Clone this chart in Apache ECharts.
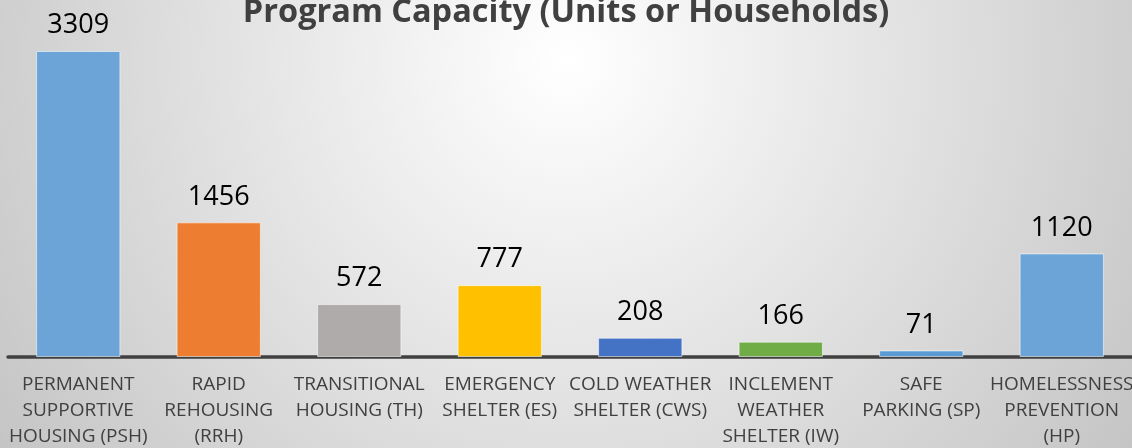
<!DOCTYPE html>
<html>
<head>
<meta charset="utf-8">
<script src="https://cdn.jsdelivr.net/npm/echarts@6/dist/echarts.min.js"></script>
<style>
  html, body { margin: 0; padding: 0; }
  #chart { width: 1132px; height: 448px; }
</style>
</head>
<body>
<div id="chart"></div>
<script>
// categories and values
var categories = [
  'PERMANENT\nSUPPORTIVE\nHOUSING (PSH)',
  'RAPID\nREHOUSING\n(RRH)',
  'TRANSITIONAL\nHOUSING (TH)',
  'EMERGENCY\nSHELTER (ES)',
  'COLD WEATHER\nSHELTER (CWS)',
  'INCLEMENT\nWEATHER\nSHELTER (IW)',
  'SAFE\nPARKING (SP)',
  'HOMELESSNESS\nPREVENTION\n(HP)'
];
var capacity = [3309, 1456, 572, 777, 208, 166, 71, 1120];
var barColors = ['#6ca4d8', '#ed7d31', '#afabab', '#ffc000', '#4472c4', '#70ad47', '#5b9bd5', '#6ca4d8'];

var chart = echarts.init(document.getElementById('chart'));

var option = {
  animation: false,
  backgroundColor: new echarts.graphic.RadialGradient(566, 60, 720, [
    {offset: 0, color: '#ffffff'},
    {offset: 1, color: '#c2c2c2'}
  ], true),
  title: {
    text: 'Program Capacity (Units or Households)',
    left: 'center',
    top: -9,
    textStyle: {
      fontFamily: 'Open Sans',
      fontWeight: 'bold',
      fontSize: 32.5,
      color: '#404040'
    }
  },
  grid: {
    left: 8,
    right: 0,
    top: 51,
    bottom: 91,
    containLabel: false,
    outerBoundsMode: 'none'
  },
  xAxis: {
    type: 'category',
    data: categories,
    axisLine: {lineStyle: {color: '#404040', width: 3.5}},
    axisTick: {show: false},
    axisLabel: {
      interval: 0,
      margin: 15,
      fontFamily: 'Open Sans',
      fontSize: 19,
      lineHeight: 26,
      color: '#404040'
    }
  },
  yAxis: {
    type: 'value',
    min: 0,
    max: 3309,
    show: false,
    splitLine: {show: false}
  },
  series: [{
    type: 'bar',
    barCategoryGap: '40%',
    data: capacity.map(function (v, i) {
      return {value: v, itemStyle: {color: barColors[i]}};
    }),
    itemStyle: {
      borderColor: 'rgba(255,255,255,0.55)',
      borderWidth: 1
    },
    label: {
      show: true,
      position: 'top',
      distance: 12,
      fontFamily: 'Open Sans',
      fontSize: 27,
      color: '#000000'
    }
  }]
};

chart.setOption(option);
</script>
</body>
</html>
